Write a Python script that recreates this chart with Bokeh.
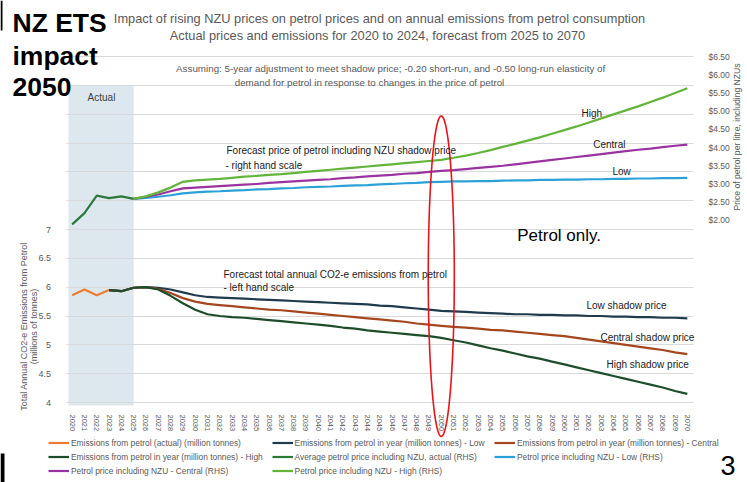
from math import pi, cos, sin
from bokeh.plotting import figure
from bokeh.models import (Range1d, LinearAxis, FixedTicker, NumeralTickFormatter, Label,
                          Legend, LegendItem, BoxAnnotation, PolyAnnotation)
from bokeh.embed import file_html
from bokeh.resources import INLINE

# ---------------- data ----------------
years_all = [2020, 2021, 2022, 2023, 2024, 2025, 2026, 2027, 2028, 2029, 2030, 2031, 2032, 2033, 2034,
             2035, 2036, 2037, 2038, 2039, 2040, 2041, 2042, 2043, 2044, 2045, 2046, 2047, 2048, 2049,
             2050, 2051, 2052, 2053, 2054, 2055, 2056, 2057, 2058, 2059, 2060, 2061, 2062, 2063, 2064,
             2065, 2066, 2067, 2068, 2069, 2070]

em_actual_years = [2020, 2021, 2022, 2023]
em_actual = [5.86, 5.96, 5.86, 5.95]

em_fc_years = years_all[3:]          # 2023 - 2070
em_low = [5.95, 5.93, 5.99, 6.00, 5.99, 5.96, 5.91, 5.86, 5.83, 5.82, 5.81, 5.80, 5.79,
          5.78, 5.77, 5.76, 5.75, 5.74, 5.73, 5.72, 5.71, 5.70, 5.68, 5.67, 5.65, 5.63, 5.61, 5.59,
          5.58, 5.57, 5.56, 5.55, 5.54, 5.53, 5.53, 5.52, 5.52, 5.51, 5.51, 5.50, 5.50, 5.49, 5.49,
          5.48, 5.48, 5.47, 5.47, 5.46]
em_central = [5.95, 5.93, 5.99, 6.00, 5.97, 5.90, 5.81, 5.75, 5.71, 5.69, 5.67, 5.65, 5.63,
              5.61, 5.60, 5.58, 5.56, 5.54, 5.52, 5.50, 5.48, 5.46, 5.44, 5.42, 5.40, 5.37, 5.35, 5.33,
              5.31, 5.30, 5.28, 5.26, 5.25, 5.23, 5.21, 5.19, 5.17, 5.15, 5.12, 5.09, 5.06, 5.03, 5.00,
              4.97, 4.94, 4.91, 4.87, 4.84]
em_high = [5.95, 5.93, 5.99, 6.00, 5.96, 5.85, 5.72, 5.61, 5.53, 5.50, 5.48, 5.47, 5.45,
           5.43, 5.41, 5.39, 5.37, 5.35, 5.33, 5.30, 5.28, 5.25, 5.23, 5.21, 5.19, 5.17, 5.15, 5.12,
           5.08, 5.04, 4.99, 4.94, 4.90, 4.85, 4.80, 4.76, 4.71, 4.66, 4.61, 4.56, 4.51, 4.46, 4.41,
           4.36, 4.31, 4.26, 4.20, 4.15]

price_actual_years = [2020, 2021, 2022, 2023, 2024, 2025]
price_actual = [1.89, 2.20, 2.68, 2.61, 2.66, 2.59]

price_fc_years = years_all[5:]       # 2025 - 2070
price_low = [2.59, 2.62, 2.65, 2.69, 2.74, 2.77, 2.79, 2.80, 2.82, 2.83, 2.85, 2.86, 2.88, 2.89,
             2.91, 2.92, 2.93, 2.95, 2.96, 2.97, 2.99, 3.00, 3.02, 3.03, 3.05, 3.06, 3.07, 3.07,
             3.08, 3.08, 3.09, 3.10, 3.10, 3.11, 3.11, 3.12, 3.12, 3.13, 3.13, 3.14, 3.14, 3.15,
             3.15, 3.16, 3.16, 3.17]
price_central = [2.59, 2.65, 2.71, 2.80, 2.88, 2.90, 2.92, 2.94, 2.96, 2.98, 3.00, 3.03, 3.05,
                 3.07, 3.09, 3.11, 3.13, 3.16, 3.18, 3.21, 3.23, 3.25, 3.28, 3.30, 3.33, 3.36, 3.38,
                 3.41, 3.44, 3.47, 3.50, 3.54, 3.58, 3.62, 3.66, 3.70, 3.74, 3.78, 3.82, 3.86, 3.90,
                 3.94, 3.97, 4.01, 4.05, 4.08]
price_high = [2.59, 2.66, 2.77, 2.90, 3.06, 3.10, 3.12, 3.14, 3.17, 3.20, 3.22, 3.25, 3.27, 3.30,
              3.33, 3.36, 3.39, 3.42, 3.45, 3.48, 3.51, 3.54, 3.57, 3.60, 3.63, 3.66, 3.72, 3.78,
              3.85, 3.93, 4.02, 4.10, 4.19, 4.28, 4.38, 4.48, 4.58, 4.69, 4.80, 4.91, 5.02, 5.13,
              5.25, 5.37, 5.50, 5.63]

left_ticks = [4, 4.5, 5, 5.5, 6, 6.5, 7]
grid_ticks = [4, 4.5, 5, 5.5, 6, 6.5, 7, 7.5, 8, 8.5, 9, 9.5, 10]
right_ticks = [2.0, 2.5, 3.0, 3.5, 4.0, 4.5, 5.0, 5.5, 6.0, 6.5]

# ---------------- geometry (page pixels) ----------------
W, H = 747, 482
FL, FR, FT, FB = 65.5, 693.0, 56.0, 402.0      # plotting area of the chart
X0, X1 = 2019.5, 2070.5                         # category axis extent
YL0, YL1 = 4.0, 10.0                            # left scale extent
YR0, YR1 = -3.0, 6.5                            # right scale extent

kx = (FR - FL) / (X1 - X0)
kl = (FB - FT) / (YL1 - YL0)
kr = (FB - FT) / (YR1 - YR0)
x_range = Range1d(X0 - FL / kx, X1 + (W - FR) / kx)
yl_range = Range1d(YL0 - (H - FB) / kl, YL1 + FT / kl)
yr_range = Range1d(YR0 - (H - FB) / kr, YR1 + FT / kr)

FONT = "Liberation Sans"
GRAY = "#595959"

p = figure(width=W, height=H, output_backend="svg", toolbar_location=None,
           x_range=x_range, y_range=yl_range, min_border=0,
           min_border_left=0, min_border_right=0, min_border_top=0, min_border_bottom=0)
p.title.visible = False
p.extra_y_ranges = {"price": yr_range}
p.outline_line_color = None
p.background_fill_color = "white"
p.border_fill_color = "white"

# grid lines (left scale), limited to the plotting area
p.xgrid.visible = False
g = p.ygrid[0]
g.ticker = FixedTicker(ticks=grid_ticks)
g.grid_line_color = "#d9d9d9"
g.grid_line_width = 1
if "cross_bounds" in g.properties():
    g.cross_bounds = (X0, X1)
else:
    g.visible = False
    p.segment(x0=[X0] * len(grid_ticks), x1=[X1] * len(grid_ticks), y0=grid_ticks, y1=grid_ticks,
              line_color="#d9d9d9", line_width=1, level="underlay")

xa = p.xaxis[0]
xa.ticker = FixedTicker(ticks=years_all)
xa.major_label_orientation = "vertical"
xa.fixed_location = YL0
ya = p.yaxis[0]
ya.ticker = FixedTicker(ticks=left_ticks)
ya.formatter = NumeralTickFormatter(format="0.[0]")
ya.fixed_location = X0

ra = LinearAxis(y_range_name="price", ticker=FixedTicker(ticks=right_ticks),
                formatter=NumeralTickFormatter(format="$0.00"), fixed_location=X1)
p.add_layout(ra, "right")

for ax, fs, so in ((xa, "7.5px", 6), (ya, "9px", 9), (ra, "8.5px", 9)):
    ax.axis_line_color = None
    ax.major_tick_line_color = None
    ax.minor_tick_line_color = None
    ax.major_label_text_color = GRAY
    ax.major_label_text_font = FONT
    ax.major_label_text_font_size = fs
    ax.major_label_standoff = so

# "Actual" shading
p.add_layout(BoxAnnotation(left=2019.7, right=2025.0, top=9.5, bottom=3.95, fill_color="#dde7ee",
                           fill_alpha=1, line_color=None, level="image"))

# ---------------- lines ----------------
C_ACT = "#ed7d31"
C_LOW = "#1f3b4d"
C_CEN = "#a5461f"
C_HIGH = "#1e4d2b"
C_PACT = "#2b7a3b"
C_PLOW = "#2aa2d8"
C_PCEN = "#9933a0"
C_PHIGH = "#62b53a"
LW = 2.2

r_act = p.line(em_actual_years, em_actual, line_color=C_ACT, line_width=LW)
r_low = p.line(em_fc_years, em_low, line_color=C_LOW, line_width=LW)
r_cen = p.line(em_fc_years, em_central, line_color=C_CEN, line_width=LW)
r_high = p.line(em_fc_years, em_high, line_color=C_HIGH, line_width=LW)
r_pact = p.line(price_actual_years, price_actual, line_color=C_PACT, line_width=LW, y_range_name="price")
r_plow = p.line(price_fc_years, price_low, line_color=C_PLOW, line_width=LW, y_range_name="price")
r_pcen = p.line(price_fc_years, price_central, line_color=C_PCEN, line_width=LW, y_range_name="price")
r_phigh = p.line(price_fc_years, price_high, line_color=C_PHIGH, line_width=LW, y_range_name="price")

# ---------------- legends (3 columns) ----------------


def make_legend(items, page_left, n_rows):
    top = 437.2
    bottom = top + n_rows * 11 + (n_rows - 1) * 3
    leg = Legend(items=items, location=(page_left, H - bottom), orientation="vertical",
                 padding=0, spacing=3, glyph_width=21, glyph_height=11, label_height=11,
                 label_standoff=2, label_text_font=FONT, label_text_font_size="8.4px",
                 label_text_color=GRAY, border_line_color=None, background_fill_alpha=0)
    p.add_layout(leg)


make_legend([LegendItem(label="Emissions from petrol (actual) (million tonnes)", renderers=[r_act]),
             LegendItem(label="Emissions from petrol in year (million tonnes) - High", renderers=[r_high]),
             LegendItem(label="Petrol price including NZU - Central (RHS)", renderers=[r_pcen])], 48, 3)
make_legend([LegendItem(label="Emissions from petrol in year (million tonnes) - Low", renderers=[r_low]),
             LegendItem(label="Average petrol price including NZU, actual (RHS)", renderers=[r_pact]),
             LegendItem(label="Petrol price including NZU - High (RHS)", renderers=[r_phigh])], 271.6, 3)
make_legend([LegendItem(label="Emissions from petrol in year (million tonnes) - Central", renderers=[r_cen]),
             LegendItem(label="Petrol price including NZU - Low (RHS)", renderers=[r_plow])], 494, 2)

# ---------------- red ellipse around 2050 ----------------
n = 72
ex = [2050 + 1.06 * cos(2 * pi * i / n) for i in range(n)]
ey = [6.19 + 2.78 * sin(2 * pi * i / n) for i in range(n)]
p.add_layout(PolyAnnotation(xs=ex, ys=ey, fill_alpha=0, line_color="#e8141c", line_alpha=1,
                            line_width=1.6))

# slide edge marks
p.add_layout(BoxAnnotation(left=0, right=4, top=H - 453, bottom=0, left_units="screen",
                           right_units="screen", top_units="screen", bottom_units="screen",
                           fill_color="black", fill_alpha=1, line_color=None))
p.add_layout(BoxAnnotation(left=0, right=2, top=H, bottom=H - 30, left_units="screen",
                           right_units="screen", top_units="screen", bottom_units="screen",
                           fill_color="black", fill_alpha=1, line_color=None))

# ---------------- texts ----------------


def lab(text, px, py, size, color="#1a1a1a", align="left", baseline="middle", bold=False, angle=0.0):
    p.add_layout(Label(x=px, y=H - py, x_units="screen", y_units="screen", text=text,
                       text_font=FONT, text_font_size=size, text_color=color, text_align=align,
                       text_baseline=baseline, text_font_style="bold" if bold else "normal",
                       angle=angle))


lab("NZ ETS", 12, 22, "26.5px", "black", baseline="alphabetic", bold=True)
lab("impact", 12, 55, "26.5px", "black", baseline="alphabetic", bold=True)
lab("2050", 12, 86, "26.5px", "black", baseline="alphabetic", bold=True)

lab("Impact of rising NZU prices on petrol prices and on annual emissions from petrol consumption",
    379, 17.5, "12.8px", GRAY, align="center")
lab("Actual prices and emissions for 2020 to 2024, forecast from 2025 to 2070", 377, 35, "12.8px",
    GRAY, align="center")
lab("Assuming: 5-year adjustment to meet shadow price;  -0.20 short-run, and -0.50 long-run elasticity of",
    391.5, 68.3, "9.8px", GRAY, align="center")
lab("demand for petrol in response to changes in the price of petrol", 369, 81.7, "9.8px", GRAY,
    align="center")

lab("Actual", 101, 96.7, "10px", "#404040", align="center")
lab("Forecast price of petrol including NZU shadow price", 226, 150, "10px")
lab("- right hand scale", 225, 165, "10px")
lab("Forecast total annual CO2-e emissions from petrol", 223, 274, "10px")
lab("- left hand scale", 223, 286.7, "10px")
lab("High", 581, 113.3, "10px")
lab("Central", 592.7, 144, "10px")
lab("Low", 612, 170.7, "10px")
lab("Petrol only.", 516.7, 235, "17px", "black")
lab("Low shadow price", 586, 305, "10px")
lab("Central shadow price", 600, 337.3, "10px")
lab("High shadow price", 606, 364.3, "10px")
lab("3", 720, 465, "27px", "black", baseline="middle")

lab("Total Annual CO2-e Emissions from Petrol", 23.3, 326, "9px", GRAY, align="center", angle=pi / 2)
lab("(millions of tonnes)", 33.3, 326, "9px", GRAY, align="center", angle=pi / 2)
lab("Price of petrol per litre, including NZUs", 736.5, 136.5, "8.6px", GRAY, align="center", angle=pi / 2)

open("out.html", "w").write(file_html(p, INLINE))
